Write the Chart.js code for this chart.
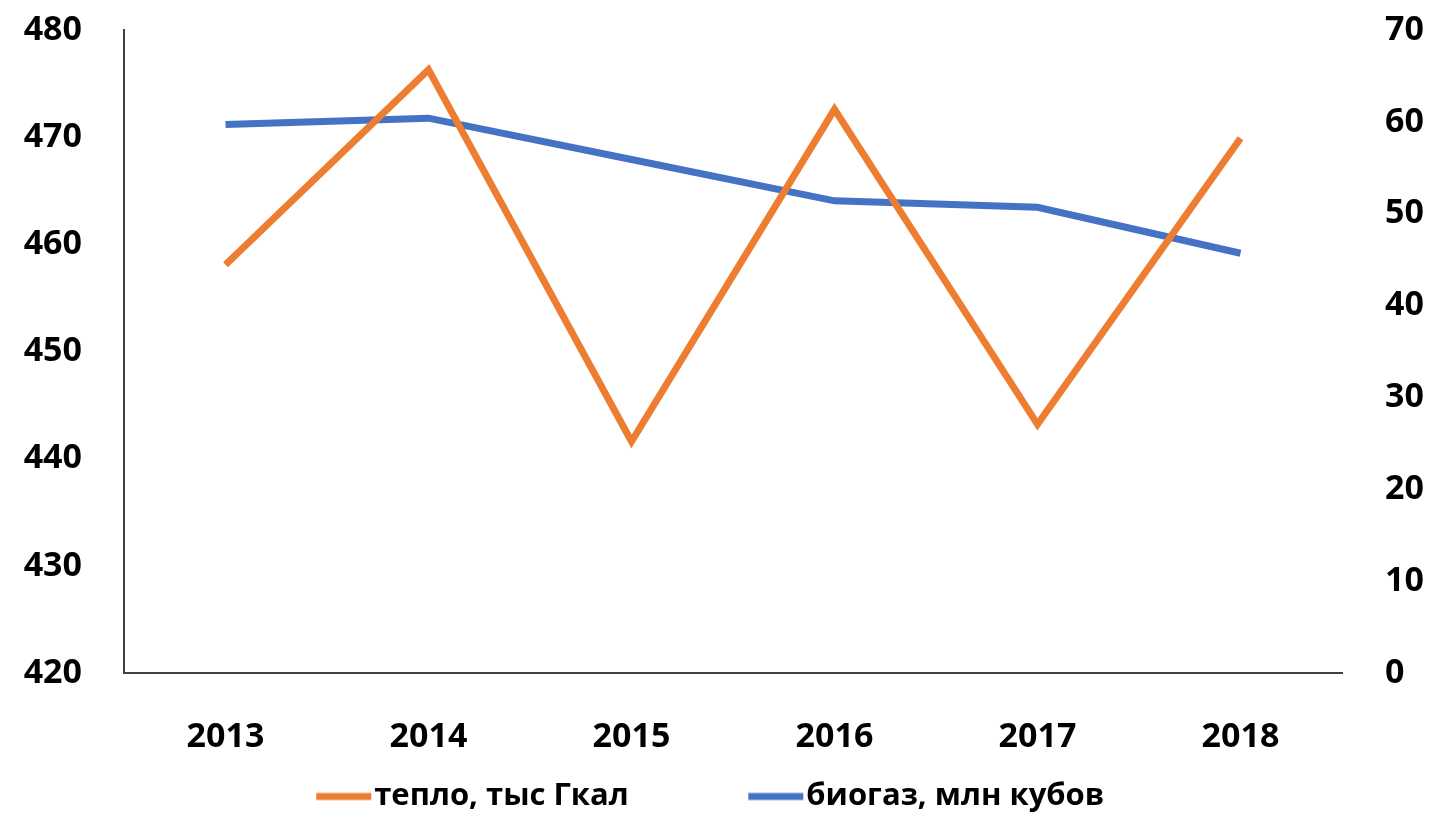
<!DOCTYPE html>
<html>
<head>
<meta charset="utf-8">
<script src="https://cdn.jsdelivr.net/npm/chart.js@4.4.0/dist/chart.umd.min.js"></script>
<style>
  html, body { margin: 0; padding: 0; background: #fff; }
  #wrap { width: 1438px; height: 822px; }
</style>
</head>
<body>
<div id="wrap"><canvas id="chart"></canvas></div>
<script>
const years = ["2013", "2014", "2015", "2016", "2017", "2018"];
const heat = [458.1, 476.3, 441.6, 472.6, 443.2, 469.9];   // тепло, тыс Гкал
const biogas = [59.7, 60.4, 55.9, 51.4, 50.7, 45.7];       // биогаз, млн кубов

const leftTicks = [420, 430, 440, 450, 460, 470, 480];
const rightTicks = [0, 10, 20, 30, 40, 50, 60, 70];

const ORANGE = "#ED7D31";
const BLUE = "#4472C4";

const tickFont = { family: "'Open Sans', sans-serif", size: 34, weight: "bold" };
const legendFont = { family: "'Open Sans', sans-serif", size: 31, weight: "bold" };

// legend marker: a short thick line that runs right up to the label text
const markW = 56;
function legendMark(color) {
  const gap = legendFont.size / 2;
  const c = document.createElement("canvas");
  c.width = markW + gap * 2;
  c.height = 10;
  const g = c.getContext("2d");
  g.strokeStyle = color;
  g.lineWidth = 7;
  g.beginPath();
  g.moveTo(gap * 2 - 2, 5);
  g.lineTo(c.width - 3, 5);
  g.stroke();
  return c;
}

// keep the y axes from reserving extra room above and below the plot
function trimPadding(axis) {
  axis.paddingTop = 0;
  axis.paddingBottom = 0;
}

new Chart(document.getElementById("chart"), {
  type: "line",
  data: {
    labels: years,
    datasets: [
      {
        label: "тепло, тыс Гкал",
        data: heat,
        yAxisID: "y",
        borderColor: ORANGE,
        backgroundColor: ORANGE,
        borderWidth: 7,
        pointRadius: 0,
        pointStyle: legendMark(ORANGE),
        tension: 0
      },
      {
        label: "биогаз, млн кубов",
        data: biogas,
        yAxisID: "y1",
        borderColor: BLUE,
        backgroundColor: BLUE,
        borderWidth: 7,
        pointRadius: 0,
        pointStyle: legendMark(BLUE),
        tension: 0
      }
    ]
  },
  options: {
    responsive: true,
    maintainAspectRatio: false,
    animation: false,
    layout: { padding: { top: 30, bottom: 0 } },
    plugins: {
      tooltip: { enabled: false },
      legend: {
        position: "bottom",
        labels: {
          color: "#000",
          font: legendFont,
          usePointStyle: true,
          pointStyleWidth: markW,
          padding: 13,
          generateLabels: chart => {
            const items = Chart.defaults.plugins.legend.labels.generateLabels(chart);
            // wider gap between the two entries, and keep the row centred
            items[0].text += "\u2003\u2003\u2003";
            items[1].text += "\u2003";
            return items;
          }
        }
      }
    },
    scales: {
      x: {
        offset: true,
        afterFit: axis => { axis.height = 95; },
        grid: { display: false, drawTicks: false },
        border: { display: true, color: "#404040", width: 2 },
        ticks: { color: "#000", font: tickFont, padding: 44, maxRotation: 0 }
      },
      y: {
        position: "left",
        min: 420,
        max: 480,
        afterBuildTicks: axis => { axis.ticks = leftTicks.map(v => ({ value: v })); },
        afterFit: axis => { axis.width = 124; trimPadding(axis); },
        grid: { display: false, drawTicks: false },
        border: { display: true, color: "#404040", width: 2 },
        ticks: { color: "#000", font: tickFont, padding: 42 }
      },
      y1: {
        position: "right",
        min: 0,
        max: 70,
        afterBuildTicks: axis => { axis.ticks = rightTicks.map(v => ({ value: v })); },
        afterFit: axis => { axis.width = 96; trimPadding(axis); },
        grid: { display: false, drawTicks: false },
        border: { display: false },
        ticks: { color: "#000", font: tickFont, padding: 43 }
      }
    }
  }
});
</script>
</body>
</html>
